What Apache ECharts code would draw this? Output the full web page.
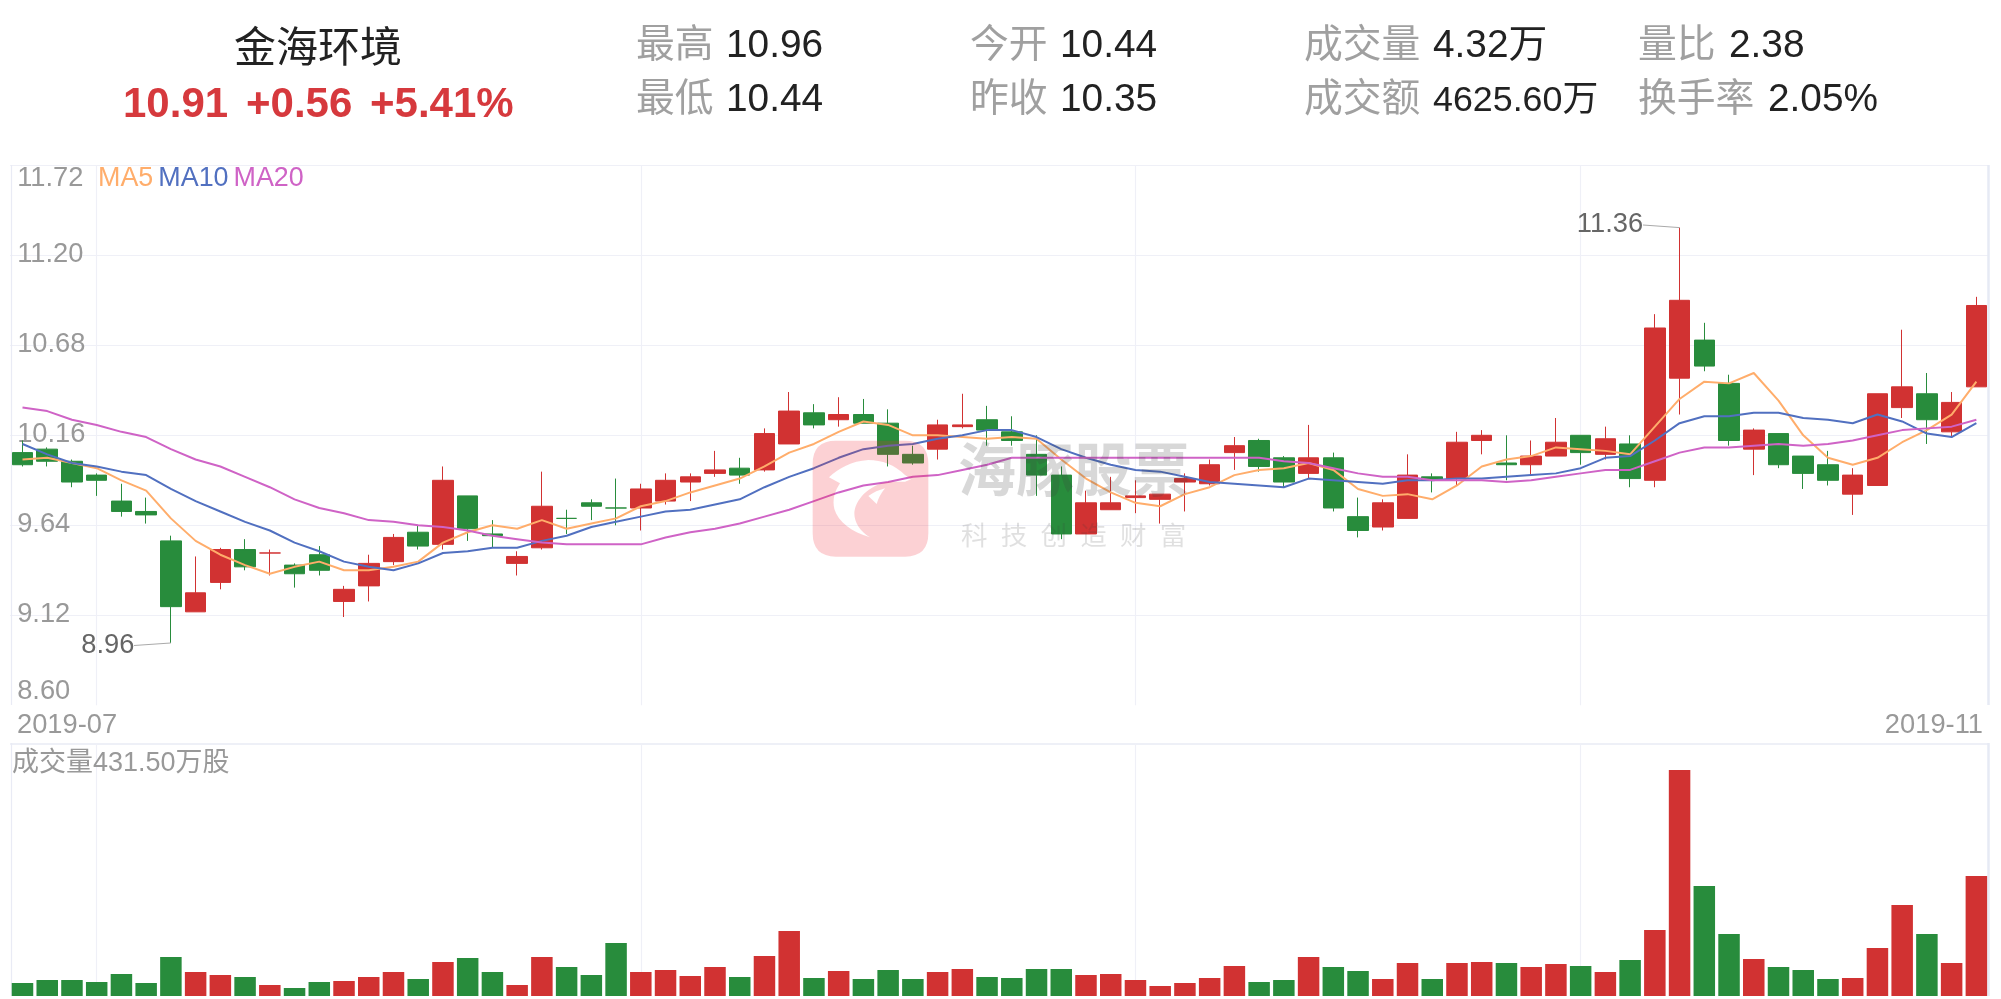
<!DOCTYPE html>
<html><head><meta charset="utf-8">
<style>html,body{margin:0;padding:0;background:#fff}#c{width:2001px;height:999px}</style>
<script src="https://cdn.jsdelivr.net/npm/echarts@6/dist/echarts.min.js"></script>
</head><body><div id="c"></div>
<script>
const opens = [10.06,10.08,10.01,9.93,9.78,9.72,9.55,9.14,9.31,9.50,9.48,9.41,9.47,9.20,9.29,9.43,9.60,9.53,9.81,9.59,
9.42,9.51,9.68,9.77,9.74,9.74,9.78,9.89,9.94,9.97,9.96,10.11,10.29,10.25,10.28,10.23,10.05,10.08,10.21,10.25,
10.18,10.05,9.93,9.59,9.73,9.80,9.79,9.89,9.88,10.06,10.13,10.03,9.94,10.03,9.69,9.63,9.68,9.92,9.91,10.13,
10.00,9.99,10.04,10.16,10.05,10.11,9.90,10.49,10.71,10.46,10.08,10.17,10.04,9.99,9.82,9.87,10.32,10.40,10.18,10.44];
const closes = [9.99,10.01,9.89,9.90,9.72,9.70,9.17,9.25,9.50,9.40,9.48,9.36,9.38,9.27,9.42,9.57,9.52,9.90,9.62,9.58,
9.46,9.75,9.68,9.75,9.74,9.85,9.90,9.92,9.96,9.93,10.17,10.30,10.22,10.28,10.23,10.05,10.00,10.22,10.22,10.19,
10.13,9.93,9.59,9.77,9.77,9.81,9.82,9.91,9.99,10.10,9.98,9.89,10.03,9.74,9.61,9.77,9.93,9.90,10.12,10.16,
9.99,10.04,10.12,10.06,10.14,9.91,10.78,10.94,10.56,10.13,10.19,9.99,9.94,9.90,9.93,10.40,10.44,10.25,10.35,10.91];
const lows = [9.98,9.98,9.86,9.81,9.69,9.65,8.96,9.14,9.27,9.38,9.35,9.28,9.35,9.11,9.20,9.41,9.50,9.50,9.55,9.51,
9.35,9.50,9.59,9.67,9.64,9.61,9.76,9.78,9.92,9.88,9.95,10.11,10.20,10.21,10.23,9.98,9.99,10.02,10.20,10.10,
10.10,9.81,9.56,9.59,9.73,9.71,9.65,9.72,9.87,9.96,9.95,9.86,9.91,9.72,9.57,9.61,9.68,9.83,9.87,10.05,
9.90,9.93,10.04,9.99,10.02,9.86,9.86,10.28,10.53,10.10,9.93,9.97,9.85,9.87,9.70,9.87,10.26,10.11,10.15,10.44];
const highs = [10.13,10.09,10.02,9.94,9.88,9.80,9.58,9.46,9.51,9.56,9.50,9.42,9.52,9.29,9.47,9.59,9.64,9.98,9.81,9.67,
9.49,9.95,9.73,9.79,9.91,9.88,9.94,9.94,10.07,10.03,10.20,10.41,10.34,10.38,10.37,10.31,10.10,10.25,10.40,10.33,
10.27,10.16,9.98,9.84,9.92,9.90,9.82,9.94,10.02,10.15,10.14,10.04,10.22,10.06,9.80,9.79,10.05,9.94,10.18,10.19,
10.16,10.13,10.26,10.16,10.21,10.16,10.86,11.36,10.81,10.51,10.20,10.17,10.04,10.07,9.97,10.40,10.77,10.52,10.41,10.96];
const ma5 = [10.02,10.03,10.00,9.97,9.90,9.84,9.68,9.55,9.47,9.41,9.36,9.40,9.43,9.38,9.38,9.40,9.43,9.54,9.60,9.64,
9.62,9.67,9.62,9.65,9.68,9.75,9.78,9.83,9.87,9.91,9.98,10.06,10.11,10.18,10.24,10.22,10.16,10.16,10.15,10.14,
10.15,10.14,10.02,9.91,9.83,9.77,9.75,9.82,9.86,9.93,9.96,9.97,10.00,9.96,9.85,9.81,9.82,9.79,9.87,9.98,
10.02,10.04,10.09,10.08,10.07,10.05,10.21,10.37,10.47,10.46,10.52,10.36,10.16,10.03,9.99,10.03,10.12,10.19,10.28,10.47];
const ma10 = [10.11,10.05,10.00,9.98,9.95,9.93,9.85,9.78,9.72,9.66,9.61,9.54,9.49,9.43,9.40,9.38,9.42,9.48,9.49,9.51,
9.51,9.55,9.58,9.63,9.66,9.69,9.72,9.73,9.76,9.79,9.86,9.92,9.97,10.03,10.08,10.10,10.11,10.14,10.16,10.19,
10.19,10.15,10.08,10.03,9.99,9.96,9.95,9.92,9.89,9.88,9.87,9.86,9.91,9.90,9.89,9.88,9.90,9.90,9.91,9.91,
9.92,9.93,9.94,9.97,10.03,10.04,10.13,10.23,10.27,10.27,10.29,10.29,10.26,10.25,10.23,10.28,10.24,10.17,10.15,10.23];
const ma20 = [10.32,10.30,10.25,10.22,10.18,10.15,10.08,10.02,9.98,9.92,9.86,9.79,9.74,9.71,9.67,9.66,9.64,9.63,9.61,9.58,
9.56,9.54,9.53,9.53,9.53,9.53,9.57,9.60,9.62,9.65,9.69,9.73,9.78,9.83,9.87,9.89,9.92,9.93,9.96,9.99,
10.03,10.03,10.03,10.03,10.03,10.03,10.03,10.03,10.03,10.03,10.03,10.01,10.00,9.97,9.94,9.92,9.92,9.90,9.90,9.90,
9.89,9.90,9.92,9.94,9.96,9.96,10.01,10.06,10.09,10.09,10.10,10.11,10.10,10.11,10.13,10.16,10.19,10.20,10.21,10.25];
const volumes = [24.8,30.5,30.5,26.7,42.0,24.8,74.5,45.8,40.1,36.3,21.0,15.3,26.7,28.6,36.3,45.8,32.5,64.9,72.6,45.8,
21.0,74.5,55.4,40.1,101.2,45.8,49.6,38.2,55.4,36.3,76.4,124.1,34.4,47.7,32.5,49.6,32.5,45.8,51.5,36.3,
34.4,51.5,51.5,40.1,42.0,30.5,19.1,24.8,34.4,57.3,26.7,30.5,74.5,55.4,47.7,32.5,63.0,32.5,63.0,64.9,
63.0,55.4,61.1,57.3,45.8,68.7,126.0,431.5,210.0,118.4,70.6,55.4,49.6,32.5,34.4,91.6,173.7,118.4,63.0,229.1];
const categories = opens.map((_, i) => 'D' + i);
const monthStarts = [3, 25, 45, 63];
const xTickLabels = ['2019-07', '2019-11'];
const yTicks = [8.60, 9.12, 9.64, 10.16, 10.68, 11.20, 11.72];
const maNames = ['MA5', 'MA10', 'MA20'];
const stockName = '金海环境';
const quote = ['10.91', '+0.56', '+5.41%'];
const volumeTitle = '成交量431.50万股';

const RED = '#d13232', GREEN = '#288c3c', GRIDC = '#eff0f7', GRAY = '#a0a0a0', DARK = '#222222';
const MAC = ['#ffad6b', '#5170c0', '#cf63c6'];
const FF = '"Liberation Sans","Noto Sans CJK SC",sans-serif';

function txt(text, x, y, size, fill, extra) {
  return { type: 'text', z: 50, silent: true, style: Object.assign({ text, x, y, fill, fontFamily: FF, fontSize: size, verticalAlign: 'middle', align: 'left' }, extra || {}) };
}
function vline(x, y1, y2, w, color) {
  return { type: 'line', z: 1, silent: true, shape: { x1: x, y1, x2: x, y2 }, style: { stroke: color, lineWidth: w } };
}
const logoPath = 'M93 17 L300 17 Q370 17 370 87 L370 295 Q370 365 300 365 L93 365 Q23 365 23 295 L23 87 Q23 17 93 17 Z ' +
  'M72 127 L105 145 C88 170 82 195 88 222 C100 262 140 290 195 307 C165 290 148 262 148 235 C150 195 190 150 250 140 L300 140 L318 133 L300 120 C270 90 230 75 190 75 C140 78 100 100 72 127 Z ' +
  'M190 183 L215 207 C220 190 228 175 240 160 C222 165 205 172 190 183 Z';

const graphics = [
  vline(11.5, 165, 705, 1.2, '#e9ebf5'), vline(11.5, 743, 996, 1.2, '#e9ebf5'),
  vline(1988.5, 165, 705, 2.5, '#e6eaf4'), vline(1988.5, 743, 996, 2.5, '#e6eaf4'),
  txt(stockName, 318, 50, 42, DARK, { align: 'center' }),
  txt(quote[0], 123, 105, 42, '#d6393d', { fontWeight: 'bold' }),
  txt(quote[1], 246, 105, 42, '#d6393d', { fontWeight: 'bold' }),
  txt(quote[2], 370, 105, 42, '#d6393d', { fontWeight: 'bold' }),
  txt('最高', 636, 46.5, 38.8, GRAY), txt('10.96', 726, 46.5, 38.8, DARK),
  txt('最低', 636, 100.5, 38.8, GRAY), txt('10.44', 726, 100.5, 38.8, DARK),
  txt('今开', 970, 46.5, 38.8, GRAY), txt('10.44', 1060, 46.5, 38.8, DARK),
  txt('昨收', 970, 100.5, 38.8, GRAY), txt('10.35', 1060, 100.5, 38.8, DARK),
  txt('成交量', 1304, 46.5, 38.8, GRAY), txt('4.32万', 1433, 46.5, 38.8, DARK),
  txt('成交额', 1304, 100.5, 38.8, GRAY), txt('4625.60万', 1433, 101, 35.8, DARK),
  txt('量比', 1638, 46.5, 38.8, GRAY), txt('2.38', 1729, 46.5, 38.8, DARK),
  txt('换手率', 1638, 100.5, 38.8, GRAY), txt('2.05%', 1768, 100.5, 38.8, DARK),
  txt(volumeTitle, 12, 764, 27, '#999999'),
  txt('海豚股票', 958, 475, 58, 'rgba(60,60,60,0.2)', { fontWeight: 'bold' }),
  txt('科\u2002技\u2002创\u2002造\u2002财\u2002富', 961, 538, 26.5, 'rgba(60,60,60,0.16)')
];

const chart = echarts.init(document.getElementById('c'), null, { renderer: 'canvas' });
const axisText = { color: '#999999', fontFamily: FF, fontSize: 27.3 };
const L = 10.13, W = 1978.6;
const isMonth = i => monthStarts.includes(i);
const yMin = yTicks[0], yMax = yTicks[yTicks.length - 1];
chart.setOption({
  animation: false,
  backgroundColor: '#ffffff',
  graphic: { elements: graphics },
  legend: {
    left: 93, top: 165, padding: 0, itemGap: 0, itemWidth: 0, itemHeight: 0, icon: 'none', selectedMode: false,
    data: maNames.map((n, i) => ({ name: n, icon: 'none', textStyle: { color: MAC[i], fontFamily: FF, fontSize: 26.9 } }))
  },
  grid: [
    { left: L, width: W, top: 165.3, height: 540 },
    { left: L, width: W, top: 743.3, height: 252.7 },
    { left: 17, right: 18, top: 165.3, height: 540 }
  ],
  xAxis: [
    { type: 'category', gridIndex: 0, data: categories, boundaryGap: true,
      axisLine: { show: false }, axisTick: { show: false }, axisLabel: { show: false },
      splitLine: { show: true, alignWithLabel: true, interval: i => isMonth(i), lineStyle: { color: GRIDC, width: 1.2 } } },
    { type: 'category', gridIndex: 1, data: categories, boundaryGap: true,
      axisLine: { show: false }, axisTick: { show: false }, axisLabel: { show: false },
      splitLine: { show: true, alignWithLabel: true, interval: i => isMonth(i), lineStyle: { color: GRIDC, width: 1.2 } } },
    { type: 'category', gridIndex: 2, data: xTickLabels, boundaryGap: false,
      axisLine: { show: false }, axisTick: { show: false }, splitLine: { show: false },
      axisLabel: Object.assign({ show: true, interval: 0, margin: 7, alignMinLabel: 'left', alignMaxLabel: 'right' }, axisText) }
  ],
  yAxis: [
    { type: 'value', gridIndex: 0, min: yMin, max: yMax, interval: 0.52, scale: true,
      axisLine: { show: false }, axisTick: { show: false },
      axisLabel: Object.assign({ inside: true, margin: 7,
        formatter: v => {
          const s = v.toFixed(2);
          return (Math.abs(v - yMin) < 1e-6 || Math.abs(v - yMax) < 1e-6) ? '{e|' + s + '}' : '{m|' + s + '}';
        },
        rich: { e: Object.assign({}, axisText), m: Object.assign({ padding: [0, 0, 2, 0] }, axisText) },
        verticalAlignMinLabel: 'bottom', verticalAlignMaxLabel: 'top' }, axisText),
      splitLine: { show: true, showMinLine: false, lineStyle: { color: GRIDC, width: 1.2 } } },
    { type: 'value', gridIndex: 1, min: 0, max: 482.4, interval: 482.4,
      axisLine: { show: false }, axisTick: { show: false }, axisLabel: { show: false },
      splitLine: { show: true, showMinLine: false, lineStyle: { color: '#e9ebf5', width: 1.5 } } },
    { type: 'value', gridIndex: 2, show: false, min: 0, max: 1 }
  ],
  series: [
    { type: 'candlestick', name: 'K', xAxisIndex: 0, yAxisIndex: 0, barWidth: 21,
      data: opens.map((o, i) => [o, closes[i], lows[i], highs[i]]),
      itemStyle: { color: RED, color0: GREEN, borderColor: RED, borderColor0: GREEN, borderWidth: 1 },
      markPoint: {
        symbol: 'circle', symbolSize: 1, itemStyle: { opacity: 0 }, silent: true,
        label: { show: true, position: 'left', distance: 36, color: '#666666', fontFamily: FF, fontSize: 27.3, opacity: 1 },
        data: [
          { coord: [6, 8.96], value: '8.96', label: { formatter: '8.96', offset: [0, 2] } },
          { coord: [67, 11.36], value: '11.36', label: { formatter: '11.36', offset: [0, -3] } }
        ]
      },
      markLine: {
        symbol: 'none', silent: true, label: { show: false },
        lineStyle: { color: '#aaaaaa', width: 1, type: 'solid' },
        data: [
          [{ coord: [6, 8.96] }, { x: 134, y: 645.5 }],
          [{ coord: [67, 11.36] }, { x: 1643, y: 225 }]
        ]
      }
    },
    ...[ma5, ma10, ma20].map((d, i) => ({
      type: 'line', name: maNames[i], xAxisIndex: 0, yAxisIndex: 0, data: d, showSymbol: false, symbol: 'none', smooth: false,
      lineStyle: { color: MAC[i], width: 2 }, itemStyle: { color: MAC[i] }
    })),
    { type: 'bar', name: 'V', xAxisIndex: 1, yAxisIndex: 1, barWidth: 21.5,
      data: volumes.map((v, i) => {
        const up = closes[i] > opens[i] || (closes[i] === opens[i] && i > 0 && closes[i - 1] <= closes[i]);
        return { value: v, itemStyle: { color: up ? RED : GREEN } };
      }) },
    { type: 'line', name: 'labels', xAxisIndex: 2, yAxisIndex: 2, data: [null, null], silent: true, symbol: 'none' },
    { type: 'custom', name: 'logo', coordinateSystem: 'none', z: 40, silent: true, data: [[0]],
      renderItem: () => ({
        type: 'path', silent: true,
        shape: { pathData: logoPath, x: 812.67, y: 440.67, width: 115.67, height: 116, layout: 'cover' },
        style: { fill: 'rgba(240,40,50,0.21)' }
      }) }
  ]
});
</script></body></html>
